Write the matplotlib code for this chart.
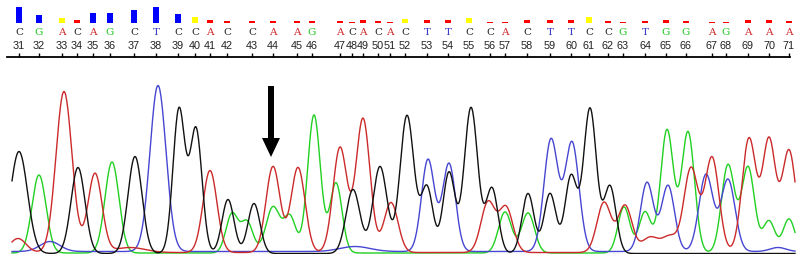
import numpy as np
import matplotlib.pyplot as plt

# ==========================================
# 数据：碱基、位置、质量值
# ==========================================
bases = list("CGACAGCTCCACCAAGACACACTTCCACTTCCGTGGAGAAA")
base_num = list(range(31, 72))
base_pos = [19, 39, 62, 77, 93, 110, 134, 156, 178, 195, 210, 227, 252, 273, 297,
            312, 340, 352, 363, 378, 390, 405, 427, 448, 469, 490, 505, 527, 550,
            571, 589, 608, 623, 645, 666, 686, 712, 726, 748, 769, 789]
qual = [16, 8, 5, 3, 10, 10, 13, 16, 9, 6, 3, 2, 2, 2, 2, 2, 2, 1.5, 3.5, 2.5,
        1.5, 4, 3, 3, 5, 1.5, 1.5, 3, 3.5, 3, 6, 2.5, 1.5, 2.5, 3.5, 2.5, 1.5,
        1.5, 3, 3.5, 2.5]

# 峰值（扫描位置，高度，宽度）
black_x = [19, 78, 135, 179, 196, 228, 254, 353, 380, 407, 427, 449, 471, 492, 528, 550, 571, 590, 610]
black_h = [102, 86, 97, 144, 124, 54, 50, 64, 87, 138, 66, 81, 146, 65, 60, 60, 77, 145, 67]
black_w = [8.5, 7, 7, 6, 6, 6, 6, 7, 7, 7, 6, 6, 6.8, 6, 6, 6, 6, 6.5, 6]

red_x = [18, 64, 95, 130, 210, 273, 298, 340, 363, 391, 488, 506, 604, 625, 650, 670, 691, 712, 749, 769, 789]
red_h = [14, 161, 79, 5, 82, 86, 85, 105, 134, 50, 50, 45, 50, 47, 15, 16, 84, 95, 114, 112, 102]
red_w = [8, 8, 7, 15, 7, 7, 7, 7, 7, 7, 7, 7, 7, 7, 8, 8, 7, 7, 7, 6.5, 7]

green_x = [39, 112, 232, 247, 273, 290, 314, 336, 505, 528, 624, 645, 667, 688, 728, 748, 769, 789]
green_h = [78, 91, 39, 31, 46, 36, 138, 70, 41, 40, 46, 41, 123, 121, 88, 86, 32, 34]
green_w = [7, 7, 6, 6, 7, 6, 6.4, 6, 6.5, 6.5, 6, 6, 6.5, 6.5, 6.5, 6.5, 6, 6]

blue_x = [50, 158, 355, 428, 449, 551, 572, 647, 668, 706, 728, 778]
blue_h = [10, 166, 5, 92, 88, 112, 109, 69, 66, 77, 72, 4]
blue_w = [10, 8, 15, 6.5, 6.5, 7, 7, 6.5, 6.5, 7, 7, 8]

letter_col = {'A': '#cc1f1f', 'C': '#222222', 'G': '#1ec81e', 'T': '#3c3cc8'}


def trace(xs, px, ph, pw, floor=0.0):
    y = np.full_like(xs, floor)
    for c, h, w in zip(px, ph, pw):
        y += h * np.exp(-(xs - c) ** 2 / (2 * w ** 2))
    return y


fig = plt.figure(figsize=(8, 2.69), dpi=100)
H = 269.0

# ---------- 顶部：质量条、碱基、编号 ----------
ax_top = fig.add_axes([0, 0, 1, 1])
ax_top.set_xlim(0, 800)
ax_top.set_ylim(H, 0)
ax_top.axis('off')

bar_col = ['#0000ff' if q >= 8 else ('#ffff00' if q >= 4 else '#ff0000') for q in qual]
ax_top.bar(base_pos, [-q for q in qual], bottom=23, width=6, color=bar_col)

for p, b, n in zip(base_pos, bases, base_num):
    ax_top.text(p, 32.5, b, ha='center', va='center', fontsize=7.5,
                family='DejaVu Serif', color=letter_col[b])
    ax_top.text(p, 46, str(n), ha='center', va='center', fontsize=7.8,
                family='Liberation Sans', color='#222222')
ax_top.plot([7, 790], [57, 57], color='black', lw=1.3)
ax_top.vlines(base_pos, 53, 57, color='black', lw=1)

# 箭头
ax_top.add_patch(plt.Rectangle((268, 86), 6, 52, color='black', lw=0))
ax_top.add_patch(plt.Polygon([[262, 138], [280, 138], [271, 157]], color='black', lw=0))

# ---------- 下部：测序峰图 ----------
ax = fig.add_axes([0, (H - 254) / H, 1, (254 - 70) / H])
ax.set_xlim(0, 800)
ax.set_ylim(0, 184)
ax.axis('off')
ax.patch.set_alpha(0)

xs = np.linspace(12, 795, 1600)
ax.plot([12, 795], [0, 0], color='#dddddd', lw=1)
ax.plot(xs, trace(xs, green_x, green_h, green_w, 1.0), color='#22d022', lw=1)
ax.plot(xs, trace(xs, blue_x, blue_h, blue_w, 2.5), color='#4646d2', lw=1)
ax.plot(xs, trace(xs, red_x, red_h, red_w, 1.5), color='#cc2a2a', lw=1)
ax.plot(xs, trace(xs, black_x, black_h, black_w, 0.5), color='#111111', lw=1)

fig.savefig('out.png', dpi=100, facecolor='white')
